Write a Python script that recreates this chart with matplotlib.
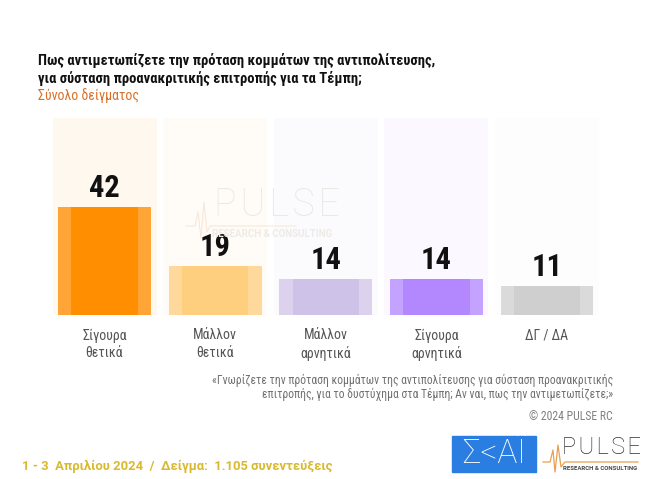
import matplotlib
matplotlib.use("Agg")
import matplotlib.pyplot as plt
from matplotlib.patches import Rectangle

W, H = 650, 479

categories = ["Σίγουρα\nθετικά", "Μάλλον\nθετικά", "Μάλλον\nαρνητικά", "Σίγουρα\nαρνητικά", "ΔΓ / ΔΑ"]
values = [42, 19, 14, 14, 11]
bar_colors = ["#ff8f00", "#ffcf80", "#cfc2e8", "#b388ff", "#cfcfcf"]
side_colors = ["#ffa436", "#ffd99c", "#dcd2ee", "#c4a2ff", "#dadada"]
panel_colors = ["#fff8ef", "#fffcf8", "#fbfbfe", "#fbf8ff", "#fdfdfd"]

NARROW = ["Roboto Condensed", "Roboto", "DejaVu Sans"]
plt.rcParams["font.family"] = NARROW

fig = plt.figure(figsize=(W / 100, H / 100), dpi=100, facecolor="white")


def px_text(x, y, s, **kw):
    # place text with reference pixel coordinates
    return fig.text(x / W, 1 - y / H, s, **kw)


def px_axes(left, top, right, bottom):
    return fig.add_axes([left / W, 1 - bottom / H, (right - left) / W, (bottom - top) / H])


ax = px_axes(49.2, 118, 602.3, 314.5)
ax.set_xlim(-0.5, 4.5)
ax.set_ylim(0, 77)
ax.axis("off")
xs = range(len(values))
ax.bar(xs, [77] * 5, width=0.94, color=panel_colors, zorder=1)
ax.bar(xs, values, width=0.84, color=side_colors, zorder=2)
ax.bar(xs, values, width=0.60, color=bar_colors, zorder=3)
for x, v in zip(xs, values):
    ax.annotate(str(v), (x, v), xytext=(0, 3), textcoords="offset points", ha="center", va="bottom",
                fontsize=22, fontweight="bold", color="#111111", zorder=5)
    ax.annotate(categories[x], (x, 0), xytext=(0, -10), textcoords="offset points", ha="center", va="top",
                fontsize=10, color="#555555", linespacing=1.3, annotation_clip=False)

# title block
px_text(38, 61, "Πως αντιμετωπίζετε την πρόταση κομμάτων της αντιπολίτευσης,", fontsize=10.5,
        fontweight="bold", color="#111111", va="center")
px_text(38, 79, "για σύσταση προανακριτικής επιτροπής για τα Τέμπη;", fontsize=10.5,
        fontweight="bold", color="#111111", va="center")
px_text(38, 96, "Σύνολο δείγματος", fontsize=10, color="#d9702a", va="center")

# footnote
px_text(613, 380, "«Γνωρίζετε την πρόταση κομμάτων της αντιπολίτευσης για σύσταση προανακριτικής",
        fontsize=8.4, color="#707070", ha="right", va="center")
px_text(613, 394, "επιτροπής, για το δυστύχημα στα Τέμπη; Αν ναι, πως την αντιμετωπίζετε;»",
        fontsize=8.4, color="#707070", ha="right", va="center")
px_text(613, 417, "© 2024 PULSE RC", fontsize=8.5, color="#808080", ha="right", va="center")
px_text(22, 466, "1 - 3  Απριλίου 2024  /  Δείγμα:  1.105 συνεντεύξεις", fontsize=9.4,
        fontweight="bold", color="#d9b92e", va="center", family="Roboto")

# overlay for logos, in pixel coordinates
ov = fig.add_axes([0, 0, 1, 1], zorder=10)
ov.set_xlim(0, W)
ov.set_ylim(H, 0)
ov.axis("off")
ov.patch.set_alpha(0)

# faint watermark
ov.text(214, 205, "P\u200aU\u200aL\u200aS\u200aE", fontsize=27, color="#ebe8e6", va="center", ha="left",
        family="Roboto", fontweight="light", zorder=1)
ov.text(212, 234, "RESEARCH & CONSULTING", fontsize=7, color="#eeeae6", va="center", family="Roboto",
        fontweight="bold", zorder=1)
ov.plot([186, 195, 198, 201, 204, 207, 210, 296], [226, 226, 212, 238, 202, 232, 226, 226],
        color="#f8e8d8", lw=0.8, zorder=1)

# SKAI logo
ov.add_patch(Rectangle((452, 436), 84, 36, color="#2a7de1", zorder=2))
ov.text(494, 454, "Σ<ΑΪ", fontsize=24, color="white", ha="center", va="center", family="Roboto",
        fontweight="light", zorder=3)

# PULSE logo
ov.plot([543, 550, 553, 555, 558, 561, 565, 638], [462, 462, 450, 472, 445, 467, 462, 462],
        color="#e8a050", lw=0.9, zorder=3)
ov.text(562, 448, "P\u200aU\u200aL\u200aS\u200aE", fontsize=17, color="#333333", va="center", family="Roboto",
        fontweight="light", zorder=3)
ov.text(563, 468, "RESEARCH & CONSULTING", fontsize=4.3, color="#444444", va="center", family="Roboto",
        fontweight="bold", zorder=3)

fig.savefig("out.png", dpi=100)
